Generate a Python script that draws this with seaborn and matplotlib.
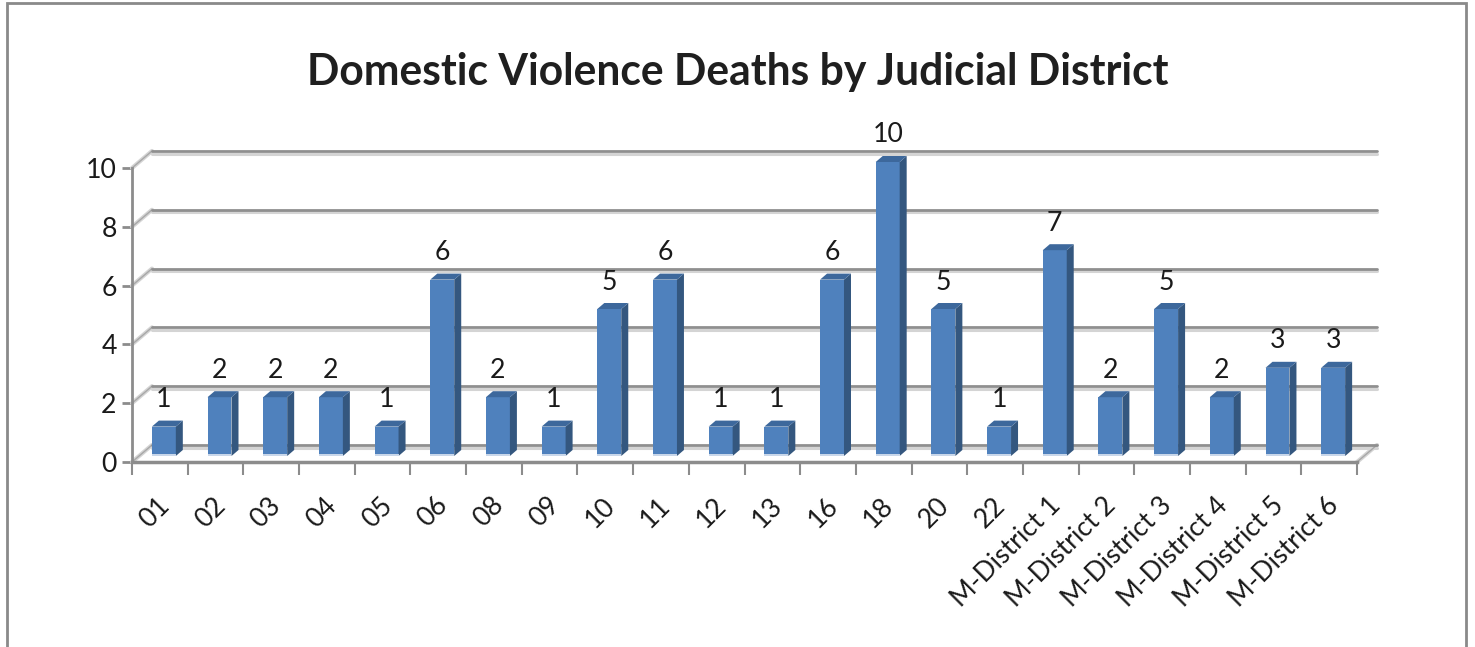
import matplotlib
matplotlib.use("Agg")
import matplotlib.pyplot as plt
import seaborn as sns
import numpy as np
import pandas as pd
from matplotlib.transforms import offset_copy, ScaledTranslation
from matplotlib.patches import Polygon, Rectangle
from matplotlib.lines import Line2D

# ---- data ----
districts = ["01", "02", "03", "04", "05", "06", "08", "09", "10", "11", "12", "13",
             "16", "18", "20", "22", "M-District 1", "M-District 2", "M-District 3",
             "M-District 4", "M-District 5", "M-District 6"]
deaths = [1, 2, 2, 2, 1, 6, 2, 1, 5, 6, 1, 1, 6, 10, 5, 1, 7, 2, 5, 2, 3, 3]
yticks = [0, 2, 4, 6, 8, 10]
title = "Domestic Violence Deaths by Judicial District"

FRONT = "#4F81BD"
SIDE = "#34577F"
TOP = "#3D689C"
GRID_DARK = "#8f8f8f"
GRID_LIGHT = "#d4d4d4"

sns.set_theme(style="white")
plt.rcParams["font.family"] = ["Lato", "DejaVu Sans"]

W, H = 1475, 647
fig = plt.figure(figsize=(W / 100, H / 100), dpi=100)
fig.patch.set_facecolor("white")
renderer = fig.canvas.get_renderer()

def fit_size(text, target_px, weight="normal", base=20):
    t = fig.text(0, 0, text, fontsize=base, fontweight=weight)
    w = t.get_window_extent(renderer=renderer).width
    t.remove()
    return base * target_px / w

TICK_FS = min(fit_size("M-District 1", 143), 21)
TITLE_FS = fit_size(title, 863, weight="bold")

x0, x1 = 132, 1357
y0, y1 = 462, 168
ax = fig.add_axes([x0 / W, 1 - y0 / H, (x1 - x0) / W, (y0 - y1) / H])
ax.set_facecolor("none")

df = pd.DataFrame({"district": districts, "deaths": deaths})
sns.barplot(data=df, x="district", y="deaths", color=FRONT, saturation=1,
            width=0.43, ax=ax, zorder=5)

n = len(districts)
ax.set_xlim(-0.5, n - 0.5)
ax.set_ylim(0, 10)

sx = (x1 - x0) / n
sy = (y0 - y1) / 10.0

bdx, bdy = 20, 17      # back wall offset (px)
ddx, ddy = 7, 6        # bar depth (px)
shx, shy = 4, 6        # bar shift (px)

bar_tr = offset_copy(ax.transData, fig=fig, x=shx, y=shy, units="dots")
back_tr = offset_copy(ax.transData, fig=fig, x=bdx, y=bdy, units="dots")
back_tr2 = offset_copy(ax.transData, fig=fig, x=bdx, y=bdy - 2.5, units="dots")

for v in yticks:
    ax.add_line(Line2D([-0.5, n - 0.5], [v, v], transform=back_tr2,
                       color=GRID_LIGHT, lw=2.2, clip_on=False, zorder=1))
    ax.add_line(Line2D([-0.5, n - 0.5], [v, v], transform=back_tr,
                       color=GRID_DARK, lw=2.0, clip_on=False, zorder=1.1))
    ax.add_line(Line2D([-0.5, -0.5 + bdx / sx], [v, v + bdy / sy],
                       color=GRID_LIGHT, lw=3.0, clip_on=False, zorder=1))
    ax.add_line(Line2D([-0.5, -0.5 + bdx / sx], [v, v + bdy / sy],
                       color="#a8a8a8", lw=1.0, clip_on=False, zorder=1.05))

ax.add_line(Line2D([n - 0.5, n - 0.5 + bdx / sx], [0, bdy / sy],
                   color=GRID_LIGHT, lw=3.0, clip_on=False, zorder=1))
ax.add_line(Line2D([n - 0.5, n - 0.5 + bdx / sx], [0, bdy / sy],
                   color="#a8a8a8", lw=1.0, clip_on=False, zorder=1.05))

for p, v in zip(ax.patches, deaths):
    p.set_transform(bar_tr)
    p.set_edgecolor("none")
    p.set_clip_on(False)
    bx, bw, bh = p.get_x(), p.get_width(), p.get_height()
    dx, dy = ddx / sx, ddy / sy
    side = Polygon([[bx + bw, 0], [bx + bw + dx, dy], [bx + bw + dx, bh + dy], [bx + bw, bh]],
                   closed=True, facecolor=SIDE, edgecolor="none", transform=bar_tr,
                   zorder=5, clip_on=False)
    top = Polygon([[bx, bh], [bx + dx, bh + dy], [bx + bw + dx, bh + dy], [bx + bw, bh]],
                  closed=True, facecolor=TOP, edgecolor="none", transform=bar_tr,
                  zorder=5, clip_on=False)
    base = Rectangle((bx, 0), bw, 2.5 / sy, facecolor="#c9d7ea", edgecolor="none",
                     transform=bar_tr, zorder=5.5, clip_on=False)
    ax.add_patch(side)
    ax.add_patch(top)
    ax.add_patch(base)
    ax.annotate(f"{v}", xy=(bx + bw / 2, bh), xycoords=bar_tr, xytext=(0, 33 - shy),
                textcoords="offset pixels", ha="center", va="center",
                fontsize=TICK_FS, color="#1a1a1a", zorder=6, annotation_clip=False)

for s in ["top", "right"]:
    ax.spines[s].set_visible(False)
ax.spines["left"].set_color("#8c8c8c")
ax.spines["left"].set_linewidth(2)
ax.spines["bottom"].set_color("#8c8c8c")
ax.spines["bottom"].set_linewidth(2.5)
ax.spines["bottom"].set_zorder(7)

ax.set_yticks(yticks)
ax.set_yticklabels([str(t) for t in yticks], fontsize=TICK_FS, color="#1a1a1a")
ax.tick_params(axis="y", which="major", direction="out", length=7, width=2,
               color="#8c8c8c", pad=4, left=True)

ax.set_xticks(range(n))
ax.set_xticks(np.arange(-0.5, n, 1.0), minor=True)
ax.tick_params(axis="x", which="major", length=0, pad=22)
ax.tick_params(axis="x", which="minor", direction="out", length=9, width=1.5,
               color="#8c8c8c", bottom=True)
ax.set_xticklabels(districts, rotation=45, ha="right", rotation_mode="anchor",
                   fontsize=TICK_FS, color="#1a1a1a")
for lbl in ax.get_xticklabels():
    lbl.set_transform(lbl.get_transform() + ScaledTranslation(-3 / 100, 0, fig.dpi_scale_trans))

ax.set_xlabel("")
ax.set_ylabel("")

fig.text(0.5, 1 - 72 / H, title, ha="center", va="center", fontsize=TITLE_FS,
         fontweight="bold", color="#1f1f1f")

fig.add_artist(Rectangle((7 / W, -0.05), (1466 - 7) / W, (1 - 3 / H) + 0.05,
                         transform=fig.transFigure, fill=False,
                         edgecolor="#8a8a8a", lw=2))

fig.savefig("out.png", dpi=100, facecolor="white")
